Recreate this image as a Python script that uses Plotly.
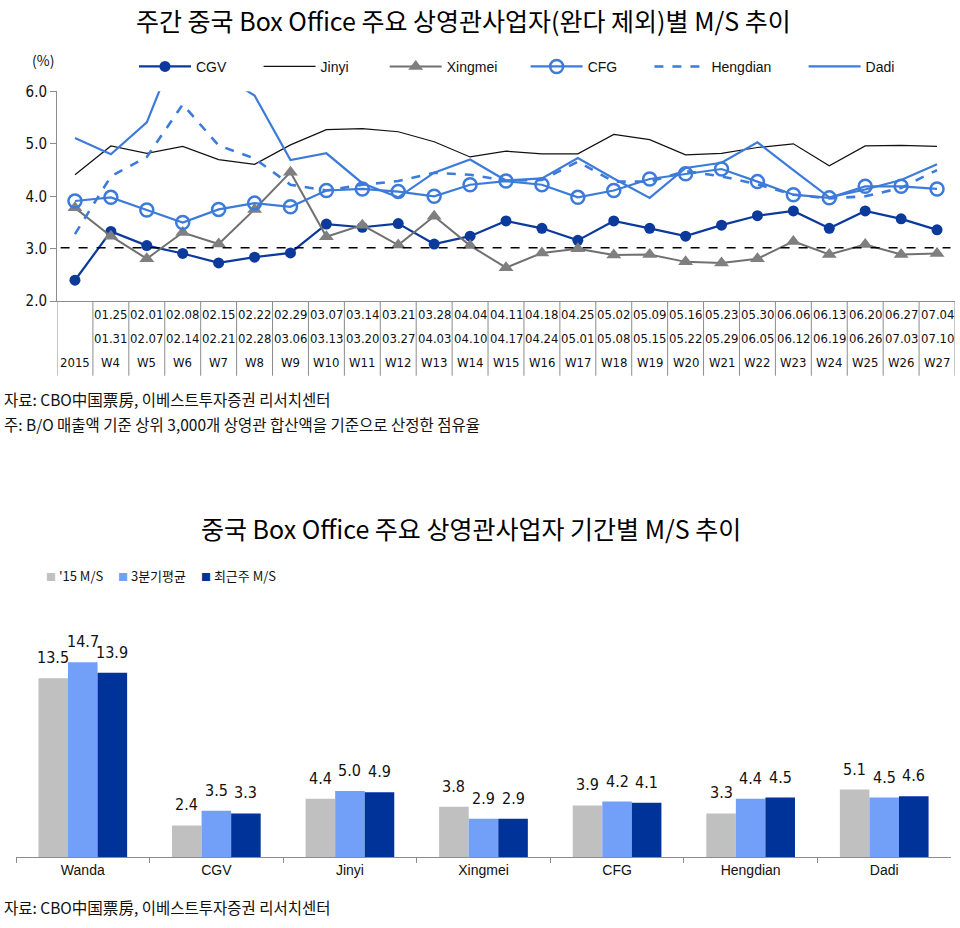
import plotly.graph_objects as go

# ---------------- data: weekly M/S (line chart) ----------------
categories = ["2015", "W4", "W5", "W6", "W7", "W8", "W9", "W10", "W11", "W12", "W13", "W14",
              "W15", "W16", "W17", "W18", "W19", "W20", "W21", "W22", "W23", "W24", "W25", "W26", "W27"]
start_dates = ["", "01.25", "02.01", "02.08", "02.15", "02.22", "02.29", "03.07", "03.14", "03.21",
               "03.28", "04.04", "04.11", "04.18", "04.25", "05.02", "05.09", "05.16", "05.23",
               "05.30", "06.06", "06.13", "06.20", "06.27", "07.04"]
end_dates = ["", "01.31", "02.07", "02.14", "02.21", "02.28", "03.06", "03.13", "03.20", "03.27",
             "04.03", "04.10", "04.17", "04.24", "05.01", "05.08", "05.15", "05.22", "05.29",
             "06.05", "06.12", "06.19", "06.26", "07.03", "07.10"]

cgv = [2.40, 3.33, 3.06, 2.91, 2.73, 2.84, 2.92, 3.47, 3.41, 3.48, 3.09, 3.24, 3.53,
       3.39, 3.16, 3.53, 3.39, 3.24, 3.45, 3.63, 3.72, 3.39, 3.72, 3.57, 3.36]
jinyi = [4.41, 4.96, 4.82, 4.95, 4.70, 4.61, 4.98, 5.27, 5.29, 5.23, 5.04, 4.75, 4.86,
         4.81, 4.81, 5.18, 5.08, 4.79, 4.82, 4.93, 5.00, 4.58, 4.96, 4.97, 4.95]
xingmei = [3.78, 3.24, 2.81, 3.31, 3.09, 3.75, 4.46, 3.23, 3.45, 3.07, 3.62, 3.06, 2.64,
           2.92, 3.00, 2.88, 2.89, 2.75, 2.73, 2.81, 3.14, 2.89, 3.08, 2.89, 2.91]
cfg = [3.91, 3.98, 3.74, 3.50, 3.75, 3.87, 3.80, 4.11, 4.14, 4.09, 4.00, 4.22, 4.29,
       4.22, 3.98, 4.11, 4.33, 4.43, 4.52, 4.28, 4.03, 3.97, 4.19, 4.19, 4.14]
hengdian = [3.28, 4.38, 4.75, 5.75, 4.97, 4.72, 4.22, 4.11, 4.22, 4.29, 4.45, 4.41, 4.30,
            4.31, 4.66, 4.28, 4.28, 4.48, 4.38, 4.23, 4.03, 3.96, 4.00, 4.16, 4.50]
dadi = [5.11, 4.80, 5.41, 7.12, 6.35, 5.92, 4.69, 4.82, 4.25, 3.98, 4.45, 4.70, 4.30,
        4.34, 4.73, 4.34, 3.97, 4.54, 4.64, 5.03, 4.50, 3.98, 4.13, 4.31, 4.61]
ref_level = 3.02

# ---------------- data: period M/S (bar chart) ----------------
companies = ["Wanda", "CGV", "Jinyi", "Xingmei", "CFG", "Hengdian", "Dadi"]
ms_2015 = [13.5, 2.4, 4.4, 3.8, 3.9, 3.3, 5.1]
ms_q3avg = [14.7, 3.5, 5.0, 2.9, 4.2, 4.4, 4.5]
ms_recent = [13.9, 3.3, 4.9, 2.9, 4.1, 4.5, 4.6]
bar_names = ["'15 M/S", "3분기평균", "최근주 M/S"]

# ---------------- styling ----------------
W, HT = 960.0, 928.0
KR = "Noto Sans CJK KR, Noto Sans, sans-serif"
NARROW = "Liberation Sans Narrow, DejaVu Sans Condensed, Roboto, sans-serif"
DARK = "#0B3A9C"
MID = "#3D7BDB"
GRAY_LINE = "#707070"
GRAY_AX = "#8C8C8C"
BAR_COLORS = ["#C0C0C0", "#72A0F8", "#00339A"]


def py(px):
    return 1 - px / HT


def pxx(px):
    return px / W


x_idx = list(range(len(categories)))
NB = "\u00a0"

fig = go.Figure()

fig.add_trace(go.Scatter(x=x_idx, y=cgv, name="CGV" + NB * 7, mode="lines+markers",
                         line=dict(color=DARK, width=2.2),
                         marker=dict(symbol="circle", size=11, color=DARK),
                         xaxis="x", yaxis="y", legend="legend"))
fig.add_trace(go.Scatter(x=x_idx, y=jinyi, name="Jinyi" + NB * 8, mode="lines",
                         line=dict(color="#111111", width=1.2),
                         xaxis="x", yaxis="y", legend="legend"))
fig.add_trace(go.Scatter(x=x_idx, y=xingmei, name="Xingmei" + NB * 6, mode="lines+markers",
                         line=dict(color=GRAY_LINE, width=2),
                         marker=dict(symbol="triangle-up", size=13, color="#7F7F7F"),
                         xaxis="x", yaxis="y", legend="legend"))
fig.add_trace(go.Scatter(x=x_idx, y=cfg, name="CFG" + NB * 7, mode="lines+markers",
                         line=dict(color=MID, width=2.2),
                         marker=dict(symbol="circle-open", size=13, color=MID,
                                     line=dict(width=2.5, color=MID)),
                         xaxis="x", yaxis="y", legend="legend"))
fig.add_trace(go.Scatter(x=x_idx, y=hengdian, name="Hengdian" + NB * 7, mode="lines",
                         line=dict(color=MID, width=2.6, dash="dash"),
                         xaxis="x", yaxis="y", legend="legend"))
fig.add_trace(go.Scatter(x=x_idx, y=dadi, name="Dadi", mode="lines",
                         line=dict(color=MID, width=2.2),
                         xaxis="x", yaxis="y", legend="legend"))

for k, (vals, nm) in enumerate(zip([ms_2015, ms_q3avg, ms_recent], bar_names)):
    fig.add_trace(go.Bar(x=companies, y=vals, name=nm, marker=dict(color=BAR_COLORS[k], line=dict(width=0)),
                         xaxis="x2", yaxis="y2", showlegend=False))

shapes = []
annotations = []

# reference dashed line
shapes.append(dict(type="line", xref="x domain", yref="y", x0=0.004, x1=0.995, y0=ref_level, y1=ref_level,
                   line=dict(color="#000000", width=1.6, dash="dash")))

# table under line chart
tbl_top, tbl_bot = 298, 374
for i in range(len(categories) + 1):
    shapes.append(dict(type="line", xref="x", yref="paper", x0=i - 0.5, x1=i - 0.5,
                       y0=py(tbl_top), y1=py(tbl_bot), line=dict(color=GRAY_AX, width=1)))
for i, c in enumerate(categories):
    for txt, ypx in ((start_dates[i], 312), (end_dates[i], 336), (c, 361)):
        if txt:
            annotations.append(dict(x=i, y=py(ypx), xref="x", yref="paper", text=txt, showarrow=False,
                                    xanchor="center", yanchor="middle",
                                    font=dict(family=NARROW, size=13, color="#111111")))

# bar labels
bw = (1 - 0.336) / 3
for k, vals in enumerate([ms_2015, ms_q3avg, ms_recent]):
    for i, v in enumerate(vals):
        annotations.append(dict(x=i + (k - 1) * bw, y=v, xref="x2", yref="y2", text=f"{v:.1f}",
                                showarrow=False, xanchor="center", yanchor="bottom", yshift=9,
                                font=dict(family=NARROW, size=16, color="#111111")))

# titles & notes
annotations += [
    dict(x=pxx(463), y=py(11), xref="paper", yref="paper", text="주간 중국 Box Office 주요 상영관사업자(완다 제외)별 M/S 추이",
         showarrow=False, xanchor="center", yanchor="middle", font=dict(family=KR, size=25, color="#000000")),
    dict(x=pxx(30), y=py(52), xref="paper", yref="paper", text="(%)", showarrow=False,
         xanchor="left", yanchor="middle", font=dict(family=KR, size=14, color="#111111")),
    dict(x=pxx(2), y=py(398), xref="paper", yref="paper", text="자료: CBO中国票房, 이베스트투자증권 리서치센터",
         showarrow=False, xanchor="left", yanchor="middle", font=dict(family=KR, size=15.5, color="#111111")),
    dict(x=pxx(2), y=py(423), xref="paper", yref="paper",
         text="주: B/O 매출액 기준 상위 3,000개 상영관 합산액을 기준으로 산정한 점유율",
         showarrow=False, xanchor="left", yanchor="middle", font=dict(family=KR, size=15.5, color="#111111")),
    dict(x=pxx(471), y=py(529), xref="paper", yref="paper", text="중국 Box Office 주요 상영관사업자 기간별 M/S 추이",
         showarrow=False, xanchor="center", yanchor="middle", font=dict(family=KR, size=25, color="#000000")),
    dict(x=pxx(2), y=py(916), xref="paper", yref="paper", text="자료: CBO中国票房, 이베스트투자증권 리서치센터",
         showarrow=False, xanchor="left", yanchor="middle", font=dict(family=KR, size=15.5, color="#111111")),
]

# manual bar legend
leg_x = [44, 116, 199]
for k, nm in enumerate(bar_names):
    annotations.append(dict(x=pxx(leg_x[k]), y=py(578), xref="paper", yref="paper",
                            text=f'<span style="color:{BAR_COLORS[k]};font-size:10px">■</span> {nm}',
                            showarrow=False, xanchor="left", yanchor="middle",
                            font=dict(family=KR, size=13, color="#111111")))

fig.update_layout(
    width=960, height=928, margin=dict(l=0, r=0, t=0, b=0),
    paper_bgcolor="white", plot_bgcolor="white",
    font=dict(family=KR, size=14, color="#111111"),
    barmode="group", bargap=0.336, bargroupgap=0,
    xaxis=dict(domain=[pxx(57), pxx(955)], range=[-0.5, len(categories) - 0.5], showticklabels=False,
               showgrid=False, zeroline=False, showline=True, linecolor=GRAY_AX, linewidth=1, ticks=""),
    yaxis=dict(domain=[py(298), py(84)], range=[2, 6], dtick=1, tickformat=".1f", showgrid=False,
               zeroline=False, showline=True, linecolor=GRAY_AX, linewidth=1, ticks="outside",
               ticklen=6, tickcolor=GRAY_AX, tickfont=dict(family=NARROW, size=15, color="#111111")),
    xaxis2=dict(domain=[pxx(16), pxx(951)], showgrid=False, zeroline=False, showline=True,
                linecolor=GRAY_AX, linewidth=1, ticks="outside", tickson="boundaries", ticklen=5,
                tickcolor=GRAY_AX, tickfont=dict(family="Liberation Sans, Arial, sans-serif", size=14, color="#111111"),
                anchor="y2"),
    yaxis2=dict(domain=[py(865), py(629.6)], range=[0, 17.4], visible=False, anchor="x2"),
    legend=dict(orientation="h", x=pxx(134), xanchor="left", y=py(59), yanchor="middle",
                font=dict(family="Liberation Sans, Arial, sans-serif", size=14, color="#111111"),
                itemwidth=52, bgcolor="rgba(0,0,0,0)", tracegroupgap=0),
    shapes=shapes, annotations=annotations,
)

fig.write_html("out.html", config={"displayModeBar": False},
               post_script="document.body.style.margin='0';document.body.style.overflow='hidden';")
